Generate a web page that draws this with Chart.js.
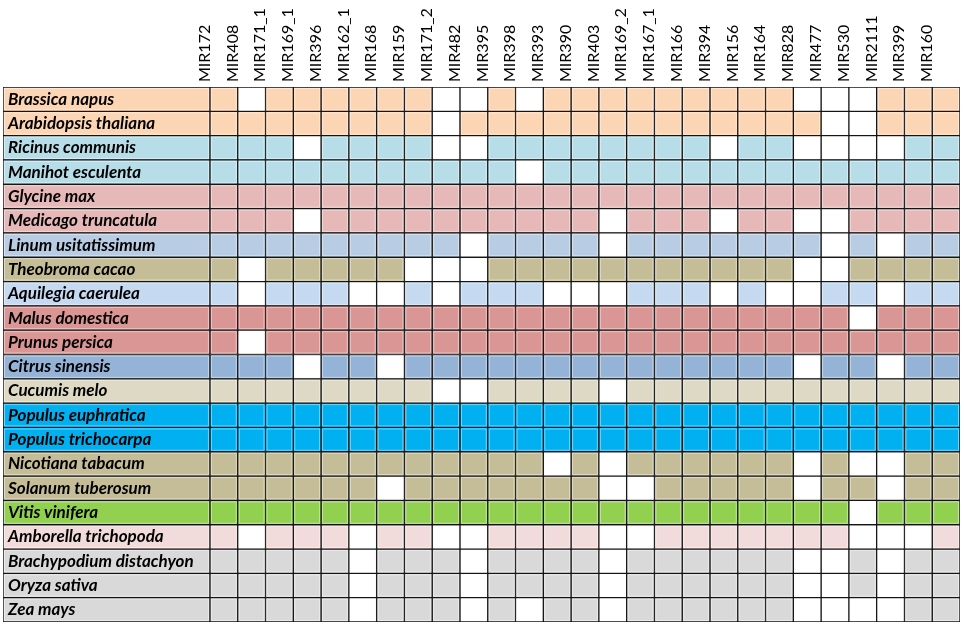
<!DOCTYPE html>
<html>
<head>
<meta charset="utf-8">
<script src="https://cdn.jsdelivr.net/npm/chart.js@4.4.1/dist/chart.umd.min.js"></script>
<style>
  html, body { margin: 0; padding: 0; background: #fff; }
  #wrap { width: 964px; height: 625px; }
</style>
</head>
<body>
<div id="wrap"><canvas id="mirChart"></canvas></div>
<script>
const mirs = ['MIR172', 'MIR408', 'MIR171_1', 'MIR169_1', 'MIR396', 'MIR162_1', 'MIR168', 'MIR159',
  'MIR171_2', 'MIR482', 'MIR395', 'MIR398', 'MIR393', 'MIR390', 'MIR403', 'MIR169_2', 'MIR167_1',
  'MIR166', 'MIR394', 'MIR156', 'MIR164', 'MIR828', 'MIR477', 'MIR530', 'MIR2111', 'MIR399', 'MIR160'];

const species = ['Brassica napus', 'Arabidopsis thaliana', 'Ricinus communis', 'Manihot esculenta',
  'Glycine max', 'Medicago truncatula', 'Linum usitatissimum', 'Theobroma cacao', 'Aquilegia caerulea',
  'Malus domestica', 'Prunus persica', 'Citrus sinensis', 'Cucumis melo', 'Populus euphratica',
  'Populus trichocarpa', 'Nicotiana tabacum', 'Solanum tuberosum', 'Vitis vinifera',
  'Amborella trichopoda', 'Brachypodium distachyon', 'Oryza sativa', 'Zea mays'];

const speciesColors = ['#FCD5B4', '#FCD5B4', '#B7DEE8', '#B7DEE8', '#E6B8B7', '#E6B8B7', '#B8CCE4',
  '#C4BD97', '#C5D9F1', '#DA9694', '#DA9694', '#95B3D7', '#DDD9C4', '#00B0F0', '#00B0F0', '#C4BD97',
  '#C4BD97', '#92D050', '#F2DCDB', '#D9D9D9', '#D9D9D9', '#D9D9D9'];

// 1 = miRNA family found in the species, 0 = absent (one string per species, one char per MIR)
const presence = [
  '101111110010111111111000111',
  '111111110111111111111100111',
  '111011110011111111011000011',
  '111111111110111111111111111',
  '111111111111111111111111111',
  '111011111111110111011001111',
  '111111111011110111111101011',
  '101111100011111111111001111',
  '101110010111000111010011011',
  '111111111111111111111110111',
  '101111111111111111111111111',
  '111011011111111111111011011',
  '111111110011110111111111111',
  '111111111111111111111111111',
  '111111111111111111111111111',
  '111111111111010111111010011',
  '111111011111110011111011011',
  '111111111111111111111110111',
  '101110110011110011111110001',
  '111110111011110111111001011',
  '111110111011110111111001011',
  '111110111010110111111000011'
];

const LABEL_W = 7.45; // label column width, in cell units

const datasets = [{
  label: 'species',
  data: species.map(() => [-LABEL_W, 0]),
  backgroundColor: speciesColors
}];
mirs.forEach((m, j) => {
  datasets.push({
    label: m,
    data: species.map(() => [j, j + 1]),
    backgroundColor: species.map((s, i) => presence[i][j] === '1' ? speciesColors[i] : '#FFFFFF')
  });
});
datasets.forEach(d => {
  d.borderColor = '#151515';
  d.borderWidth = 1;
  d.borderSkipped = false;
  d.grouped = false;
  d.barPercentage = 1;
  d.categoryPercentage = 1;
});

// light inner rim on every cell, like the spreadsheet original
const cellRim = {
  id: 'cellRim',
  afterDatasetsDraw(chart) {
    const ctx = chart.ctx;
    ctx.save();
    ctx.strokeStyle = 'rgba(255,255,255,0.45)';
    ctx.lineWidth = 1;
    chart.data.datasets.forEach((d, di) => {
      chart.getDatasetMeta(di).data.forEach(bar => {
        const p = bar.getProps(['x', 'y', 'base', 'height'], true);
        const x0 = Math.min(p.x, p.base), x1 = Math.max(p.x, p.base);
        const y0 = p.y - p.height / 2, y1 = p.y + p.height / 2;
        ctx.strokeRect(x0 + 1.5, y0 + 1.5, x1 - x0 - 3, y1 - y0 - 3);
      });
    });
    ctx.restore();
  }
};

new Chart(document.getElementById('mirChart').getContext('2d'), {
  type: 'bar',
  data: { labels: species, datasets: datasets },
  plugins: [cellRim],
  options: {
    indexAxis: 'y',
    responsive: true,
    maintainAspectRatio: false,
    animation: false,
    layout: { padding: { left: 3, right: 4, top: 0, bottom: 3 } },
    plugins: {
      legend: { display: false },
      tooltip: { enabled: false }
    },
    scales: {
      x: {
        type: 'linear',
        position: 'top',
        min: -LABEL_W,
        max: mirs.length,
        grid: { display: false, drawTicks: false },
        border: { display: false },
        afterBuildTicks: axis => {
          axis.ticks = mirs.map((m, j) => ({ value: j + 0.5 }));
        },
        afterFit: axis => {
          axis.height = 87;
        },
        ticks: {
          autoSkip: false,
          minRotation: 90,
          maxRotation: 90,
          padding: 5,
          color: '#000',
          font: { family: 'Lato', size: 16 },
          callback: (v, idx) => mirs[idx]
        }
      },
      y: {
        type: 'category',
        grid: { display: false, drawTicks: false },
        border: { display: false },
        afterFit: axis => {
          axis.width = 0;
          axis.paddingTop = 0;
          axis.paddingBottom = 0;
        },
        ticks: {
          mirror: true,
          z: 1,
          padding: 5,
          color: '#000',
          font: { family: 'Lato', size: 17, style: 'italic', weight: 'bold' }
        }
      }
    }
  }
});
</script>
</body>
</html>
